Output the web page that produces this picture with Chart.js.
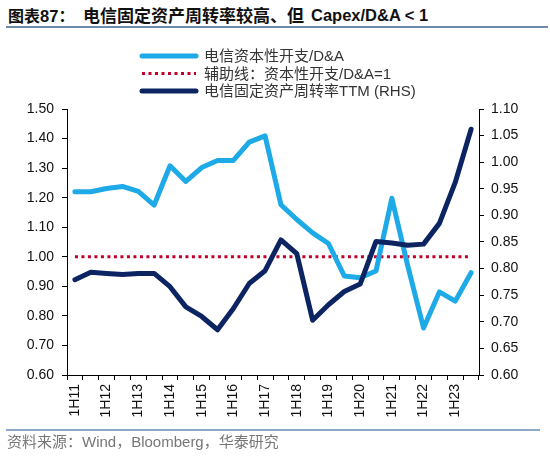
<!DOCTYPE html>
<html>
<head>
<meta charset="utf-8">
<script src="https://cdn.jsdelivr.net/npm/chart.js@4.4.0/dist/chart.umd.min.js"></script>
<style>
  body { margin: 0; background: #fff; }
  #wrap { position: relative; width: 550px; height: 461px; overflow: hidden; }
  #chart { position: absolute; left: 0; top: 0; }
  .t { position: absolute; top: 4px; white-space: nowrap; font-weight: bold; color: #111; line-height: 22px; }
  .cjk { font-family: "Noto Sans CJK SC", sans-serif; font-size: 16px; }
  .big { font-size: 17px; }
  .lat { font-family: "Liberation Sans", Arial, sans-serif; font-size: 16.5px; }
  #rule1 { position: absolute; left: 6px; top: 26px; width: 542px; height: 1.5px; background: #6f89aa; }
  #rule2 { position: absolute; left: 6px; top: 429px; width: 534px; height: 1.5px; background: #8ea8c8; }
  #foot { position: absolute; left: 7px; top: 432px; white-space: nowrap; color: #777; font-size: 15px; line-height: 20px;
          font-family: "Liberation Sans", "Noto Sans CJK SC", sans-serif; }
</style>
</head>
<body>
<div id="wrap">
  <div class="t" style="left:8px"><span class="cjk">图表</span><span class="lat">87</span><span class="cjk">：</span></div>
  <div class="t cjk big" style="left:83px">电信固定资产周转率较高、但</div>
  <div class="t lat" style="left:311px">Capex/D&amp;A &lt; 1</div>
  <div id="rule1"></div>
  <canvas id="chart" width="550" height="461"></canvas>
  <div id="rule2"></div>
  <div id="foot">资料来源：Wind，Bloomberg，华泰研究</div>
</div>
<script>
// half-year periods
const periods = ['1H11', '2H11', '1H12', '2H12', '1H13', '2H13', '1H14', '2H14', '1H15', '2H15',
  '1H16', '2H16', '1H17', '2H17', '1H18', '2H18', '1H19', '2H19', '1H20', '2H20',
  '1H21', '2H21', '1H22', '2H22', '1H23', '2H23'];

// 电信资本性开支/D&A (left axis)
const capexToDA = [1.22, 1.22, 1.231, 1.238, 1.221, 1.175, 1.308, 1.255, 1.302, 1.326,
  1.326, 1.388, 1.409, 1.176, 1.126, 1.081, 1.045, 0.935, 0.929, 0.952,
  1.198, 0.97, 0.759, 0.881, 0.85, 0.946];

// 辅助线 = 1 (left axis)
const helperLine = [1, 1, 1, 1, 1, 1, 1, 1, 1, 1, 1, 1, 1, 1, 1, 1, 1, 1, 1, 1, 1, 1, 1, 1, 1, 1];

// 电信固定资产周转率TTM (right axis)
const assetTurnover = [0.779, 0.793, 0.791, 0.789, 0.791, 0.791, 0.766, 0.728, 0.710, 0.685,
  0.725, 0.772, 0.796, 0.854, 0.828, 0.703, 0.732, 0.757, 0.771, 0.851,
  0.848, 0.844, 0.846, 0.885, 0.962, 1.062];

const leftTicks = { min: 0.6, max: 1.5, step: 0.1 };
const rightTicks = { min: 0.6, max: 1.1, step: 0.05 };

Chart.defaults.font.family = '"Liberation Sans", Arial, sans-serif';
Chart.defaults.font.size = 14;
Chart.defaults.color = '#111';

// legend drawn as a vertical list like the original
const legendList = {
  id: 'legendList',
  afterDraw(chart) {
    const ctx = chart.ctx;
    const rows = [56, 73.5, 91];
    chart.data.datasets.forEach((ds, i) => {
      const y = rows[i];
      ctx.save();
      ctx.strokeStyle = ds.borderColor;
      ctx.lineWidth = ds.borderWidth;
      ctx.setLineDash(ds.borderDash || []);
      ctx.lineCap = ds.borderDash ? 'butt' : 'round';
      ctx.beginPath();
      ctx.moveTo(142, y);
      ctx.lineTo(196, y);
      ctx.stroke();
      ctx.setLineDash([]);
      ctx.fillStyle = '#333';
      ctx.font = '15px "Liberation Sans", "Noto Sans CJK SC", sans-serif';
      ctx.textBaseline = 'middle';
      ctx.fillText(ds.label, 204, y + 1);
      ctx.restore();
    });
  }
};

const ctx = document.getElementById('chart').getContext('2d');

new Chart(ctx, {
  type: 'line',
  data: {
    labels: periods,
    datasets: [{
      label: '电信资本性开支/D&A',
      data: capexToDA,
      yAxisID: 'y',
      borderColor: '#1eaae6',
      borderWidth: 5,
      order: 1
    }, {
      label: '辅助线：资本性开支/D&A=1',
      data: helperLine,
      yAxisID: 'y',
      borderColor: '#c0002a',
      borderWidth: 3,
      borderDash: [3, 3.5],
      borderCapStyle: 'butt',
      order: 2
    }, {
      label: '电信固定资产周转率TTM (RHS)',
      data: assetTurnover,
      yAxisID: 'y1',
      borderColor: '#0c2461',
      borderWidth: 5,
      order: 0
    }]
  },
  options: {
    responsive: false,
    animation: false,
    layout: { padding: { top: 109, left: 0, right: 0, bottom: 36 } },
    elements: {
      point: { radius: 0 },
      line: { tension: 0, borderJoinStyle: 'round', borderCapStyle: 'round', fill: false }
    },
    plugins: {
      legend: { display: false },
      tooltip: { enabled: false }
    },
    scales: {
      x: {
        offset: true,
        grid: { offset: true, drawOnChartArea: false, drawTicks: true, tickLength: 5, color: '#000' },
        border: { display: true, color: '#000', width: 1 },
        ticks: {
          autoSkip: false,
          maxRotation: 90,
          minRotation: 90,
          padding: 4,
          color: '#111',
          callback: function (v, i) { return i % 2 === 0 ? this.getLabelForValue(v) : ''; }
        },
        afterFit: (s) => { s.height = 50; }
      },
      y: {
        position: 'left',
        min: leftTicks.min,
        max: leftTicks.max,
        grid: { drawOnChartArea: false, drawTicks: true, tickLength: 5, color: '#000' },
        border: { display: true, color: '#000', width: 1 },
        ticks: {
          stepSize: leftTicks.step,
          padding: 8,
          color: '#111',
          callback: (v) => v.toFixed(2)
        },
        afterFit: (s) => { s.width = 67; }
      },
      y1: {
        position: 'right',
        min: rightTicks.min,
        max: rightTicks.max,
        grid: { drawOnChartArea: false, drawTicks: true, tickLength: 5, color: '#000' },
        border: { display: true, color: '#000', width: 1 },
        ticks: {
          stepSize: rightTicks.step,
          padding: 7,
          color: '#111',
          callback: (v) => v.toFixed(2)
        },
        afterFit: (s) => { s.width = 71; }
      }
    }
  },
  plugins: [legendList]
});
</script>
</body>
</html>
